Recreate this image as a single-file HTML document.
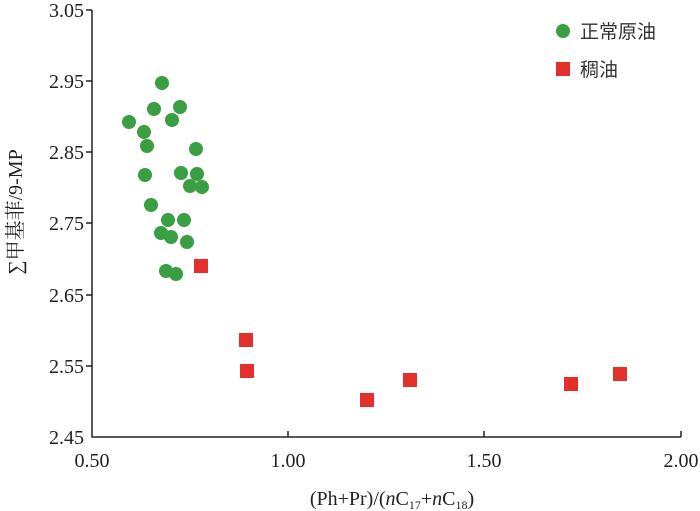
<!DOCTYPE html>
<html><head><meta charset="utf-8"><style>body{margin:0;background:#fff}svg{display:block}</style></head><body>
<svg width="700" height="511" xmlns="http://www.w3.org/2000/svg" font-family="'Liberation Serif','Noto Serif CJK SC',serif" fill="#222">
<g stroke="#222" stroke-width="1.5" fill="none">
<path d="M92 10 V437 H681"/>
<path d="M86 10H92M86 81H92M86 152H92M86 223H92M86 295H92M86 366H92"/>
<path d="M288 437V431M484 437V431M681 437V431"/>
</g>
<g font-size="20" text-anchor="end">
<text x="84" y="17">3.05</text><text x="84" y="88">2.95</text><text x="84" y="159">2.85</text><text x="84" y="230">2.75</text><text x="84" y="302">2.65</text><text x="84" y="373">2.55</text><text x="84" y="444">2.45</text>
</g>
<g font-size="20" text-anchor="middle">
<text x="92" y="467">0.50</text><text x="288" y="467">1.00</text><text x="484" y="467">1.50</text><text x="681" y="467">2.00</text>
<text x="392" y="505">(Ph+Pr)/(<tspan font-style="italic">n</tspan>C<tspan font-size="12" dy="4">17</tspan><tspan dy="-4">+</tspan><tspan font-style="italic">n</tspan>C<tspan font-size="12" dy="4">18</tspan><tspan dy="-4">)</tspan></text>
</g>
<text transform="translate(22,212) rotate(-90)" font-size="20" text-anchor="middle">∑甲基菲/9-MP</text>
<g fill="#3a9e42">
<circle cx="129" cy="122" r="7"/><circle cx="144" cy="132" r="7"/><circle cx="147" cy="146" r="7"/><circle cx="162" cy="83" r="7"/><circle cx="154" cy="109" r="7"/><circle cx="172" cy="120" r="7"/><circle cx="180" cy="107" r="7"/><circle cx="145" cy="175" r="7"/><circle cx="151" cy="205" r="7"/><circle cx="181" cy="173" r="7"/><circle cx="196" cy="149" r="7"/><circle cx="197" cy="174" r="7"/><circle cx="190" cy="186" r="7"/><circle cx="202" cy="187" r="7"/><circle cx="168" cy="220" r="7"/><circle cx="184" cy="220" r="7"/><circle cx="161" cy="233" r="7"/><circle cx="171" cy="237" r="7"/><circle cx="187" cy="242" r="7"/><circle cx="166" cy="271" r="7"/><circle cx="176" cy="274" r="7"/>
<circle cx="563" cy="31" r="7"/>
</g>
<g fill="#e3302b">
<rect x="194" y="259" width="14" height="14"/><rect x="239" y="333" width="14" height="14"/><rect x="240" y="364" width="14" height="14"/><rect x="360" y="393" width="14" height="14"/><rect x="403" y="373" width="14" height="14"/><rect x="564" y="377" width="14" height="14"/><rect x="613" y="367" width="14" height="14"/>
<rect x="556" y="62" width="14" height="14"/>
</g>
<g font-size="19" font-family="'Liberation Sans','Noto Sans CJK SC',sans-serif" fill="#333">
<text x="580" y="38">正常原油</text><text x="580" y="76">稠油</text>
</g>
</svg>
</body></html>
